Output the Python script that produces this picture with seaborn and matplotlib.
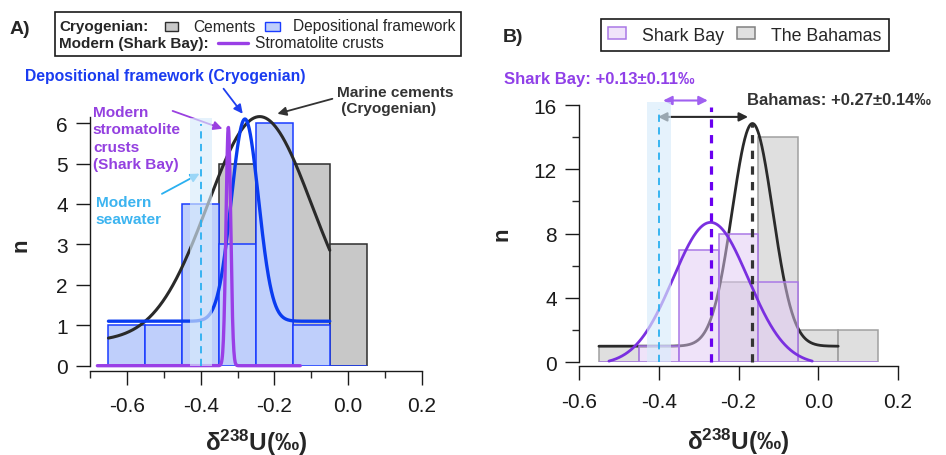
import numpy as np
import matplotlib
matplotlib.use("Agg")
import matplotlib.pyplot as plt
from matplotlib import font_manager as fm
from matplotlib.patches import Rectangle, Patch
from matplotlib.lines import Line2D
import seaborn as sns

# ---- panel A: Cryogenian carbonates vs modern Shark Bay crusts ----
binsA = [-0.65, -0.55, -0.45, -0.35, -0.25, -0.15, -0.05, 0.05]
cem_centers = [-0.3, -0.2, -0.1, 0.0]
cem_counts = [5, 5, 5, 3]
dep_centers = [-0.6, -0.5, -0.4, -0.3, -0.2, -0.1]
dep_counts = [1, 1, 4, 3, 6, 1]

# gaussian fits: (baseline, amplitude, centre, width), (x from, x to)
cem_fit, cem_span = (0.6, 5.56, -0.24, 0.20), (-0.65, -0.05)
dep_fit, dep_span = (1.1, 5.0, -0.28, 0.052), (-0.65, -0.05)
crust_fit, crust_span = (0.0, 5.9, -0.325, 0.009), (-0.68, -0.13)

seawater = -0.40
seawater_band = (-0.43, -0.37)

# ---- panel B: modern Shark Bay vs Bahamas ----
binsB = [-0.55, -0.45, -0.35, -0.25, -0.15, -0.05, 0.05, 0.15]
sb_centers = [-0.4, -0.3, -0.2, -0.1]
sb_counts = [1, 7, 8, 5]
bh_centers = [-0.5, -0.2, -0.1, 0.0, 0.1]
bh_counts = [1, 5, 14, 2, 2]
sb_fit, sb_span = (-0.15, 8.85, -0.27, 0.133), (-0.525, -0.015)
bh_fit, bh_span = (1.0, 13.85, -0.165, 0.072), (-0.55, 0.05)
sb_mean = -0.27
bh_mean = -0.165

sns.set_style("ticks")
plt.rcParams["font.family"] = ["Liberation Sans", "DejaVu Sans"]

# condensed face for the axis titles if there is one
installed = {f.name for f in fm.fontManager.ttflist}
narrow = "Liberation Sans Narrow" in installed
label_font = "Liberation Sans Narrow" if narrow else "Liberation Sans"
label_size = 21 if narrow else 17.5
plt.rcParams["mathtext.fontset"] = "custom"
plt.rcParams["mathtext.rm"] = label_font
plt.rcParams["mathtext.bf"] = label_font + ":bold"
plt.rcParams["axes.linewidth"] = 1.0
plt.rcParams["axes.edgecolor"] = "#1a1a1a"

W, H = 946, 456
fig = plt.figure(figsize=(W / 100, H / 100), dpi=100)


def fx(x):
    return x / W


def fy(y):
    return 1 - y / H


def fit_curve(fit, span):
    y0, amp, x0, w = fit
    x = np.linspace(span[0], span[1], 600)
    return x, y0 + amp * np.exp(-((x - x0) / w) ** 2)


def style_axis(ax, out, pad):
    sns.despine(ax=ax)
    ax.spines["bottom"].set_position(("outward", out))
    ax.tick_params(axis="both", which="major", direction="out", length=10, width=1,
                   labelsize=15, colors="#1a1a1a")
    ax.tick_params(axis="x", which="major", pad=8.5)
    ax.tick_params(axis="y", which="major", pad=6)
    ax.tick_params(axis="both", which="minor", direction="out", length=5, width=1)
    ax.set_xlabel(r"$\mathbf{\delta^{238}U(‰)}$", fontsize=label_size, labelpad=pad)
    ax.set_ylabel("n", fontsize=16, fontweight="bold")


# ================= panel A =================
axA = fig.add_axes([fx(90), fy(366.7), fx(332), (366.7 - 118) / H])
sns.histplot(x=cem_centers, weights=cem_counts, bins=binsA, ax=axA, color="#c8c8c8",
             alpha=1, edgecolor="#2e2e2e", linewidth=1.1, zorder=1)
sns.histplot(x=dep_centers, weights=dep_counts, bins=binsA, ax=axA, color="#bfcffb",
             alpha=1, edgecolor="#1a3cff", linewidth=1.1, zorder=1.5)

x, y = fit_curve(cem_fit, cem_span)
sns.lineplot(x=x, y=y, ax=axA, color="#2a2a2a", lw=2.2, estimator=None, sort=False, zorder=3)
x, y = fit_curve(dep_fit, dep_span)
sns.lineplot(x=x, y=y, ax=axA, color="#0a3cf0", lw=2.4, estimator=None, sort=False, zorder=3.1)
x, y = fit_curve(crust_fit, crust_span)
sns.lineplot(x=x, y=y, ax=axA, color="#9a3fe6", lw=2.4, estimator=None, sort=False, zorder=3.2)
for ln in axA.lines:
    ln.set_clip_on(False)

axA.fill_between(seawater_band, 0, 6.13, color="#d8ecfb", alpha=0.65, lw=0, zorder=4, clip_on=False)
axA.plot([seawater, seawater], [0, 5.98], color="#2ab0f0", lw=1.3, ls=(0, (4, 3)), zorder=5)

axA.set_xlim(-0.7, 0.2)
axA.set_ylim(0, 6.15)
axA.set_xticks([-0.6, -0.4, -0.2, 0.0, 0.2])
axA.set_xticklabels(["-0.6", "-0.4", "-0.2", "0.0", "0.2"])
axA.set_xticks([-0.7, -0.5, -0.3, -0.1, 0.1], minor=True)
axA.set_yticks(range(0, 7))
style_axis(axA, 3.6, 8)
axA.yaxis.set_label_coords(-0.175, 0.49)

# annotations
arr = dict(arrowstyle="-|>", lw=1.3, mutation_scale=13, shrinkA=0, shrinkB=0)
axA.annotate("", xy=(-0.286, 6.23), xytext=(-0.338, 6.85),
             arrowprops=dict(arr, color="#1f3ff0"), annotation_clip=False)
axA.annotate("", xy=(-0.192, 6.23), xytext=(-0.043, 6.6),
             arrowprops=dict(arr, color="#333333"), annotation_clip=False)
axA.annotate("", xy=(-0.341, 5.86), xytext=(-0.476, 6.30),
             arrowprops=dict(arr, color="#9a40e0"), annotation_clip=False)
axA.annotate("", xy=(-0.403, 4.75), xytext=(-0.505, 4.25),
             arrowprops=dict(arr, color="#2ab0f0"), annotation_clip=False)

axA.text(-0.495, 7.17, "Depositional framework (Cryogenian)", ha="center", va="center",
         color="#1a3cf0", fontsize=11.3, fontweight="bold", clip_on=False)
axA.text(-0.030, 6.58, "Marine cements\n (Cryogenian)", ha="left", va="center",
         color="#333333", fontsize=11.1, fontweight="bold", linespacing=1.2, clip_on=False)
axA.text(-0.692, 5.63, "Modern\nstromatolite\ncrusts\n(Shark Bay)", ha="left", va="center",
         color="#9440e0", fontsize=11.1, fontweight="bold", linespacing=1.28, clip_on=False)
axA.text(-0.684, 3.83, "Modern\nseawater", ha="left", va="center",
         color="#3cb4f0", fontsize=11.1, fontweight="bold", linespacing=1.3, clip_on=False)

# legend A (drawn by hand: two rows with bold headings)
fig.patches.append(Rectangle((fx(55), fy(57)), fx(406), (57 - 13) / H, transform=fig.transFigure,
                             fill=False, edgecolor="#1a1a1a", lw=1.2))
fig.text(fx(59), fy(27), "Cryogenian:", fontsize=11, fontweight="bold", va="center")
fig.patches.append(Rectangle((fx(165), fy(32)), fx(13), 9 / H, transform=fig.transFigure,
                             facecolor="#c8c8c8", edgecolor="#2e2e2e", lw=1))
fig.text(fx(193), fy(27), "Cements", fontsize=11.2, va="center")
fig.patches.append(Rectangle((fx(265), fy(32)), fx(15), 9 / H, transform=fig.transFigure,
                             facecolor="#bfcffb", edgecolor="#1a3cff", lw=1))
fig.text(fx(293), fy(27), "Depositional framework", fontsize=11.2, va="center")
fig.text(fx(59), fy(44), "Modern (Shark Bay):", fontsize=11, fontweight="bold", va="center")
fig.lines.append(Line2D([fx(218), fx(248)], [fy(44), fy(44)], transform=fig.transFigure,
                        color="#9a3fe6", lw=2.4))
fig.text(fx(255), fy(44), "Stromatolite crusts", fontsize=11.2, va="center")
fig.text(fx(10), fy(30), "A)", fontsize=14, fontweight="bold", va="center")

# ================= panel B =================
axB = fig.add_axes([fx(579), fy(363.3), fx(319), (363.3 - 106) / H])
sns.histplot(x=bh_centers, weights=bh_counts, bins=binsB, ax=axB, color="#c0c0c0",
             alpha=0.5, edgecolor="#a0a0a0", linewidth=1.1, zorder=1)
x, y = fit_curve(bh_fit, bh_span)
sns.lineplot(x=x, y=y, ax=axB, color="#2a2a2a", lw=2.0, estimator=None, sort=False, zorder=2)
sns.histplot(x=sb_centers, weights=sb_counts, bins=binsB, ax=axB, color="#e1c8f5",
             alpha=0.5, edgecolor="#aa78e6", linewidth=1.1, zorder=2.5)
x, y = fit_curve(sb_fit, sb_span)
sns.lineplot(x=x, y=y, ax=axB, color="#7a30e0", lw=2.0, estimator=None, sort=False, zorder=3)
for ln in axB.lines:
    ln.set_clip_on(False)

axB.fill_between(seawater_band, 0, 16.2, color="#d8ecfb", alpha=0.65, lw=0, zorder=4, clip_on=False)
axB.plot([seawater, seawater], [0, 15.75], color="#2ab0f0", lw=1.3, ls=(0, (4, 3)), zorder=5,
         clip_on=False)
axB.plot([sb_mean, sb_mean], [0, 15.9], color="#6a00f0", lw=2.3, ls=(0, (2.6, 2.3)), zorder=5,
         clip_on=False)
axB.plot([bh_mean, bh_mean], [0, 14.8], color="#333333", lw=2.3, ls=(0, (2.6, 2.3)), zorder=5,
         clip_on=False)

darr = dict(arrowstyle="<|-|>", lw=1.5, mutation_scale=13, shrinkA=0, shrinkB=0)
axB.annotate("", xy=(sb_mean - 0.007, 16.28), xytext=(seawater + 0.011, 16.28),
             arrowprops=dict(darr, color="#a060f0"), annotation_clip=False)
axB.annotate("", xy=(bh_mean - 0.011, 15.26), xytext=(seawater - 0.002, 15.26),
             arrowprops=dict(darr, color="#2a2a2a"), annotation_clip=False)
axB.text(-0.788, 17.63, "Shark Bay: +0.13±0.11‰", ha="left", va="center", color="#9040e8",
         fontsize=12, fontweight="bold", clip_on=False)
axB.text(-0.179, 16.32, "Bahamas: +0.27±0.14‰", ha="left", va="center", color="#333333",
         fontsize=12, fontweight="bold", clip_on=False)

axB.set_xlim(-0.6, 0.2)
axB.set_ylim(0, 16)
axB.set_xticks([-0.6, -0.4, -0.2, 0.0, 0.2])
axB.set_xticklabels(["-0.6", "-0.4", "-0.2", "0.0", "0.2"])
axB.set_yticks([0, 4, 8, 12, 16])
axB.set_yticks([2, 6, 10, 14], minor=True)
style_axis(axB, 3.0, 10.5)
axB.yaxis.set_label_coords(-0.21, 0.5)

handles = [Patch(facecolor="#f0e4fa", edgecolor="#aa78e6", lw=1.1, label="Shark Bay"),
           Patch(facecolor="#e0e0e0", edgecolor="#808080", lw=1.1, label="The Bahamas")]
leg = axB.legend(handles=handles, ncol=2, loc="center", bbox_to_anchor=(fx(745), fy(36)),
                 bbox_transform=fig.transFigure, fontsize=12.8, frameon=True, fancybox=False,
                 framealpha=1, edgecolor="#1a1a1a", handlelength=1.0, handleheight=0.65,
                 handletextpad=0.9, columnspacing=0.75, borderpad=0.4, borderaxespad=0)
leg.get_frame().set_linewidth(1.2)
fig.text(fx(503), fy(37), "B)", fontsize=14, fontweight="bold", va="center")

fig.savefig("out.png", dpi=100)
